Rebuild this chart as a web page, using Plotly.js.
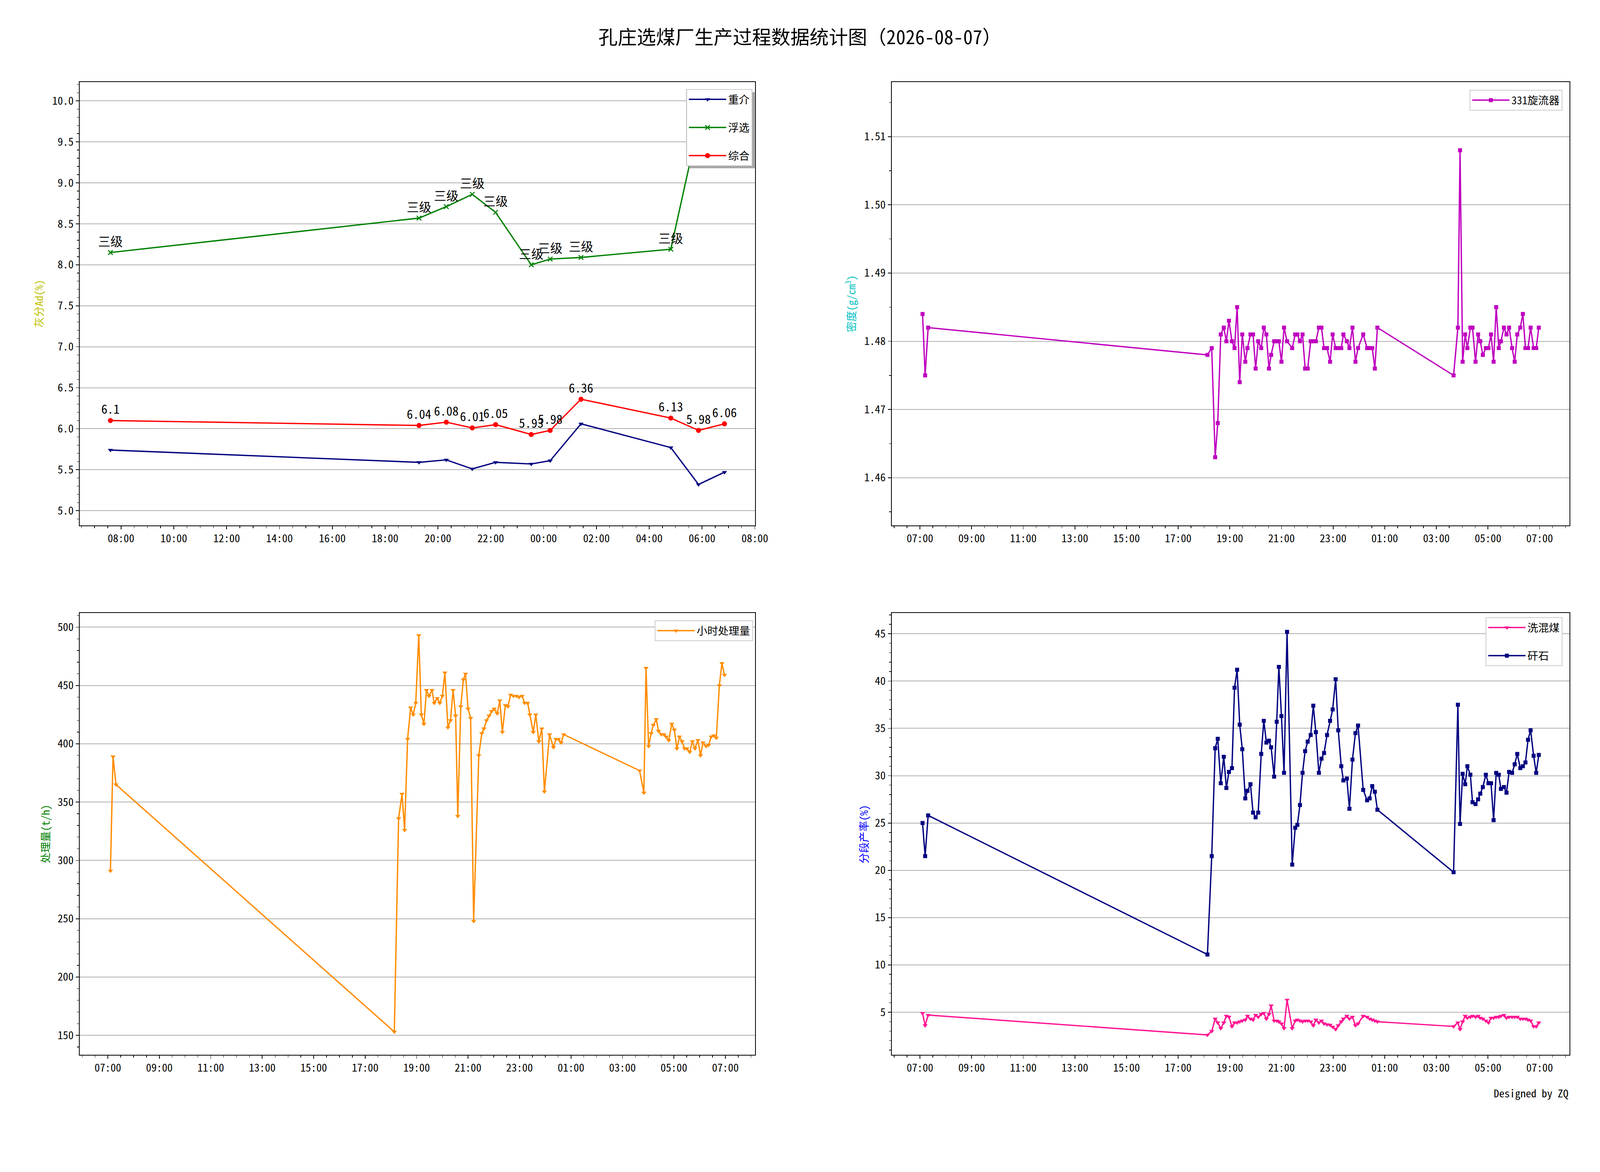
<!DOCTYPE html>
<html>
<head>
<meta charset="utf-8">
<script src="https://cdn.plot.ly/plotly-3.0.1.min.js"></script>
<style>
html, body { margin: 0; padding: 0; background: #fff; overflow: hidden; }
#chart { position: absolute; left: 0; top: 0; }
</style>
</head>
<body>
<div id="chart"></div>
<script>
// ---- ash content (top left) ----
const ashTimes = ['07:36', '19:17', '20:19', '21:18', '22:11', '23:32', '00:15', '01:25', '04:49', '05:52', '06:51']
const ashHeavy = [5.74, 5.59, 5.62, 5.51, 5.59, 5.57, 5.61, 6.06, 5.77, 5.32, 5.47]   // 重介
const ashFloat = [8.15, 8.57, 8.71, 8.86, 8.64, 8.00, 8.07, 8.09, 8.19, 9.72, 9.40]   // 浮选
const ashTotal = [6.10, 6.04, 6.08, 6.01, 6.05, 5.93, 5.98, 6.36, 6.13, 5.98, 6.06]   // 综合
const floatGrade = ['三级', '三级', '三级', '三级', '三级', '三级', '三级', '三级', '三级', '三级', '三级']

// ---- sampling times shared by density / throughput / yield ----
const sampleTimes = [
    '07:06', '07:12', '07:19', '18:08',
    '18:18', '18:26', '18:32', '18:39', '18:46', '18:52', '18:58', '19:05', '19:11', '19:17',
    '19:23', '19:29', '19:36', '19:41', '19:48', '19:54', '20:00', '20:06', '20:13', '20:19',
    '20:25', '20:31', '20:36', '20:43', '20:49', '20:54', '21:00', '21:06', '21:13', '21:25',
    '21:32', '21:37', '21:43', '21:49', '21:55', '22:01', '22:08', '22:14', '22:20', '22:27',
    '22:33', '22:39', '22:46', '22:53', '22:59', '23:06', '23:12', '23:19', '23:24', '23:32',
    '23:38', '23:45', '23:52', '23:58', '00:10', '00:19', '00:25', '00:31', '00:37', '00:43',
    '03:40',
    '03:50', '03:55', '04:01', '04:07', '04:12', '04:19', '04:24', '04:31', '04:37', '04:42',
    '04:48', '04:55', '05:01', '05:07', '05:13', '05:19', '05:25', '05:30', '05:37', '05:43',
    '05:49', '05:56', '06:02', '06:08', '06:15', '06:21', '06:27', '06:33', '06:39', '06:46',
    '06:52', '06:58'
]

const density331 = [
    1.484, 1.475, 1.482, 1.478,
    1.479, 1.463, 1.468, 1.481, 1.482, 1.480, 1.483, 1.480, 1.479, 1.485,
    1.474, 1.481, 1.477, 1.479, 1.481, 1.481, 1.476, 1.480, 1.479, 1.482,
    1.481, 1.476, 1.478, 1.480, 1.480, 1.480, 1.477, 1.482, 1.480, 1.479,
    1.481, 1.481, 1.480, 1.481, 1.476, 1.476, 1.480, 1.480, 1.480, 1.482,
    1.482, 1.479, 1.479, 1.477, 1.481, 1.479, 1.479, 1.479, 1.481, 1.480,
    1.479, 1.482, 1.477, 1.479, 1.481, 1.479, 1.479, 1.479, 1.476, 1.482,
    1.475,
    1.482, 1.508, 1.477, 1.481, 1.479, 1.482, 1.482, 1.477, 1.481, 1.480,
    1.478, 1.479, 1.479, 1.481, 1.477, 1.485, 1.479, 1.480, 1.482, 1.481,
    1.482, 1.479, 1.477, 1.481, 1.482, 1.484, 1.479, 1.479, 1.482, 1.479,
    1.479, 1.482
]

const throughput = [
    291, 389, 365, 153,
    336, 357, 326, 404, 431, 425, 435, 493, 425, 417,
    446, 441, 446, 435, 439, 435, 441, 461, 414, 420,
    446, 424, 338, 432, 455, 460, 430, 422, 248, 390,
    409, 413, 420, 424, 428, 430, 426, 437, 410, 433,
    432, 442, 441, 441, 440, 441, 435, 435, 425, 410,
    425, 402, 413, 359, 408, 397, 404, 404, 401, 408,
    377,
    358, 465, 398, 409, 416, 421, 411, 408, 408, 406,
    403, 417, 412, 396, 406, 402, 396, 396, 393, 402,
    396, 403, 390, 401, 398, 399, 406, 407, 405, 450,
    469, 459
]

// 洗混煤
const yieldMixed = [
    4.9, 3.6, 4.7, 2.6,
    3.0, 4.3, 3.9, 3.3, 3.9, 4.6, 4.5, 3.5, 3.9, 3.9,
    4.0, 4.1, 4.2, 4.6, 4.3, 4.2, 4.7, 4.5, 4.8, 4.9,
    4.3, 4.8, 5.7, 4.1, 4.1, 4.0, 3.8, 3.3, 6.3, 3.3,
    4.1, 4.2, 4.1, 4.0, 4.1, 4.1, 4.0, 3.6, 4.2, 3.9,
    4.1, 3.8, 3.7, 3.65, 3.45, 3.2, 3.6, 4.0, 4.3, 4.6,
    4.3, 4.5, 3.6, 3.8, 4.6, 4.5, 4.3, 4.2, 4.1, 4.0,
    3.5,
    3.9, 3.2, 4.0, 4.6, 4.4, 4.5, 4.6, 4.5, 4.6, 4.4,
    4.3, 4.1, 3.9, 4.4, 4.4, 4.5, 4.5, 4.6, 4.7, 4.4,
    4.5, 4.5, 4.5, 4.5, 4.3, 4.3, 4.3, 4.2, 4.1, 3.5,
    3.5, 3.9
]

// 矸石
const yieldGangue = [
    25.0, 21.5, 25.8, 11.1,
    21.5, 32.9, 33.9, 29.2, 32.0, 28.7, 30.4, 30.8, 39.3, 41.2,
    35.4, 32.8, 27.6, 28.4, 29.1, 26.1, 25.6, 26.1, 32.3, 35.8,
    33.5, 33.7, 33.0, 29.9, 35.7, 41.5, 36.3, 30.3, 45.2, 20.6,
    24.5, 24.8, 26.9, 30.3, 32.6, 33.6, 34.3, 37.4, 34.6, 30.3,
    31.8, 32.4, 34.3, 35.8, 37.0, 40.2, 34.8, 31.0, 29.5, 29.7,
    26.5, 31.7, 34.5, 35.3, 28.5, 27.4, 27.6, 28.9, 28.3, 26.4,
    19.8,
    37.5, 24.9, 30.2, 29.1, 31.0, 30.1, 27.2, 27.0, 27.5, 28.1,
    28.8, 30.1, 29.2, 29.2, 25.3, 30.3, 30.1, 28.6, 28.8, 28.2,
    30.4, 30.3, 31.2, 32.3, 30.8, 31.0, 31.4, 33.8, 34.8, 32.1,
    30.3, 32.2
]

// the design grid is 6000x3000; everything scales to the real window
const REF_W = 6000, REF_H = 3000
const W = window.innerWidth || REF_W
const H = window.innerHeight || REF_H
const k = Math.min(W / REF_W, H / REF_H)
const ky = H / REF_H
const FONT = '"Noto Sans Mono CJK SC", "DejaVu Sans Mono", "Noto Sans CJK SC", monospace'

const chartDiv = document.getElementById('chart')
chartDiv.style.width = W + 'px'
chartDiv.style.height = H + 'px'

// times run from 08-06 into 08-07, the day flips when the hour wraps
function withDates(times) {
    let day = 6
    let prev = -1
    return times.map(t => {
        const h = parseInt(t.slice(0, 2), 10)
        if (h < prev) day = 7
        prev = h
        return `2026-08-0${day} ${t}`
    })
}

const px = x => x / REF_W
const py = y => 1 - y / REF_H
const s = v => v * k

function timeAxis(x0, x1, range, tick0, anchor) {
    return {
        domain: [px(x0), px(x1)], range, anchor, type: 'date',
        tick0, dtick: 7200000, tickformat: '%H:%M',
        ticks: 'outside', ticklen: s(12), tickwidth: s(2.5), tickcolor: '#000',
        ticklabelstandoff: s(14),
        minor: {tick0, dtick: 1800000, ticks: 'outside', ticklen: s(7), tickwidth: s(2), tickcolor: '#000', showgrid: false},
        showline: true, linecolor: '#000', linewidth: s(3), mirror: true,
        showgrid: false, zeroline: false,
        tickfont: {family: FONT, size: s(40), color: '#000'}
    }
}

function valueAxis(y0, y1, range, dtick, minorDtick, fmt, anchor) {
    return {
        domain: [py(y1), py(y0)], range, anchor,
        tick0: 0, dtick, tickformat: fmt,
        ticks: 'outside', ticklen: s(12), tickwidth: s(2.5), tickcolor: '#000',
        ticklabelstandoff: s(14),
        minor: {tick0: 0, dtick: minorDtick, ticks: 'outside', ticklen: s(7), tickwidth: s(2), tickcolor: '#000', showgrid: false},
        showline: true, linecolor: '#000', linewidth: s(3), mirror: true,
        showgrid: true, gridcolor: '#b0b0b0', gridwidth: s(3), zeroline: false,
        tickfont: {family: FONT, size: s(40), color: '#000'}
    }
}

// legend rows sit about 72 reference px apart, like the matplotlib legend
const legendFont = s(40)
const rowGap = Math.max(0, 72 * ky - (1.3 * legendFont + 3))

function legendAt(right, top) {
    return {
        x: px(right), y: py(top), xanchor: 'right', yanchor: 'top',
        bgcolor: '#ffffff', bordercolor: '#cccccc', borderwidth: s(3),
        font: {family: FONT, size: legendFont, color: '#000'},
        itemwidth: Math.max(30, s(140)), traceorder: 'grouped', tracegroupgap: rowGap
    }
}

const ashX = withDates(ashTimes)
const sampleX = withDates(sampleTimes)

const traces = [
    {
        name: '重介', x: ashX, y: ashHeavy, xaxis: 'x', yaxis: 'y', legend: 'legend', legendgroup: 'a1',
        mode: 'lines+markers', type: 'scatter',
        line: {color: '#000080', width: s(5)},
        marker: {symbol: 'triangle-down', size: s(17), color: '#000080'}
    },
    {
        name: '浮选', x: ashX, y: ashFloat, xaxis: 'x', yaxis: 'y', legend: 'legend', legendgroup: 'a2',
        mode: 'lines+markers+text', type: 'scatter',
        text: floatGrade, textposition: 'top center',
        textfont: {family: FONT, size: s(46), color: '#000'},
        line: {color: '#008000', width: s(5)},
        marker: {symbol: 'x-thin', size: s(17), color: '#008000', line: {color: '#008000', width: s(4)}}
    },
    {
        name: '综合', x: ashX, y: ashTotal, xaxis: 'x', yaxis: 'y', legend: 'legend', legendgroup: 'a3',
        mode: 'lines+markers+text', type: 'scatter',
        text: ashTotal.map(v => String(v)), textposition: 'top center',
        textfont: {family: FONT, size: s(46), color: '#000'},
        line: {color: '#ff0000', width: s(5)},
        marker: {symbol: 'circle', size: s(19), color: '#ff0000'}
    },
    {
        name: '331旋流器', x: sampleX, y: density331, xaxis: 'x2', yaxis: 'y2', legend: 'legend2',
        mode: 'lines+markers', type: 'scatter',
        line: {color: '#bf00bf', width: s(5)},
        marker: {symbol: 'square', size: s(15), color: '#bf00bf'}
    },
    {
        name: '小时处理量', x: sampleX, y: throughput, xaxis: 'x3', yaxis: 'y3', legend: 'legend3',
        mode: 'lines+markers', type: 'scatter',
        line: {color: '#ff8c00', width: s(5)},
        marker: {symbol: 'triangle-down', size: s(17), color: '#ff8c00'}
    },
    {
        name: '洗混煤', x: sampleX, y: yieldMixed, xaxis: 'x4', yaxis: 'y4', legend: 'legend4', legendgroup: 'b1',
        mode: 'lines+markers', type: 'scatter',
        line: {color: '#ff1493', width: s(5)},
        marker: {symbol: 'triangle-down', size: s(17), color: '#ff1493'}
    },
    {
        name: '矸石', x: sampleX, y: yieldGangue, xaxis: 'x4', yaxis: 'y4', legend: 'legend4', legendgroup: 'b2',
        mode: 'lines+markers', type: 'scatter',
        line: {color: '#000080', width: s(5)},
        marker: {symbol: 'square', size: s(15), color: '#000080'}
    }
]

const ashRange = ['2026-08-06 06:26:15', '2026-08-07 08:00:45']
const sampleRange = ['2026-08-06 05:54:24', '2026-08-07 08:09:36']

function yTitle(text, x, y, color) {
    return {
        text, xref: 'paper', yref: 'paper', x: px(x), y: py(y), textangle: -90,
        xanchor: 'center', yanchor: 'middle', showarrow: false,
        font: {family: FONT, size: s(40), color}
    }
}

const layout = {
    width: W, height: H,
    margin: {l: 0, r: 0, t: 0, b: 0},
    paper_bgcolor: '#fff', plot_bgcolor: '#fff',
    showlegend: true, hovermode: false,
    font: {family: FONT, size: s(40), color: '#000'},
    xaxis: timeAxis(299, 2832, ashRange, '2026-08-06 08:00', 'y'),
    yaxis: valueAxis(210, 1345, [4.82, 10.23], 0.5, 0.1, '.1f', 'x'),
    xaxis2: timeAxis(3344, 5886, sampleRange, '2026-08-06 07:00', 'y2'),
    yaxis2: valueAxis(210, 1345, [1.453, 1.518], 0.01, 0.005, '.2f', 'x2'),
    xaxis3: timeAxis(299, 2832, sampleRange, '2026-08-06 07:00', 'y3'),
    yaxis3: valueAxis(1569, 2700, [133.3, 512.2], 50, 10, 'd', 'x3'),
    xaxis4: timeAxis(3344, 5886, sampleRange, '2026-08-06 07:00', 'y4'),
    yaxis4: valueAxis(1569, 2700, [0.5, 47.2], 5, 1, 'd', 'x4'),
    legend: legendAt(2822, 228),
    legend2: legendAt(5859, 230),
    legend3: legendAt(2824, 1588),
    legend4: legendAt(5859, 1580),
    annotations: [
        {
            text: '孔庄选煤厂生产过程数据统计图（2026-08-07）', xref: 'paper', yref: 'paper',
            x: 0.5, y: py(92), xanchor: 'center', yanchor: 'middle', showarrow: false,
            font: {family: FONT, size: s(72), color: '#000'}
        },
        yTitle('灰分Ad(%)', 143, 777, '#bfbf00'),
        yTitle('密度(g/cm<sup>3</sup>)', 3188, 777, '#00bfbf'),
        yTitle('处理量(t/h)', 168, 2135, '#008000'),
        yTitle('分段产率(%)', 3238, 2135, '#0000ff'),
        {
            text: 'Designed by ZQ', xref: 'paper', yref: 'paper', x: px(5884), y: py(2797),
            xanchor: 'right', yanchor: 'middle', showarrow: false,
            font: {family: FONT, size: s(40), color: '#000'}
        }
    ]
}

// matplotlib-style drop shadow behind each legend box, sized from the drawn legend
function addLegendShadows(gd) {
    const box = gd.getBoundingClientRect()
    const off = s(10)
    const shapes = []
    gd.querySelectorAll('g.legend rect.bg').forEach(r => {
        const b = r.getBoundingClientRect()
        shapes.push({
            type: 'rect', xref: 'paper', yref: 'paper', layer: 'above',
            x0: (b.left - box.left + off) / W, x1: (b.right - box.left + off) / W,
            y0: 1 - (b.bottom - box.top + off) / H, y1: 1 - (b.top - box.top + off) / H,
            fillcolor: '#a6a6a6', line: {width: 0}
        })
    })
    return Plotly.relayout(gd, {shapes})
}

Plotly.newPlot(chartDiv, traces, layout, {staticPlot: true, displayModeBar: false})
    .then(addLegendShadows)
</script>
</body>
</html>
